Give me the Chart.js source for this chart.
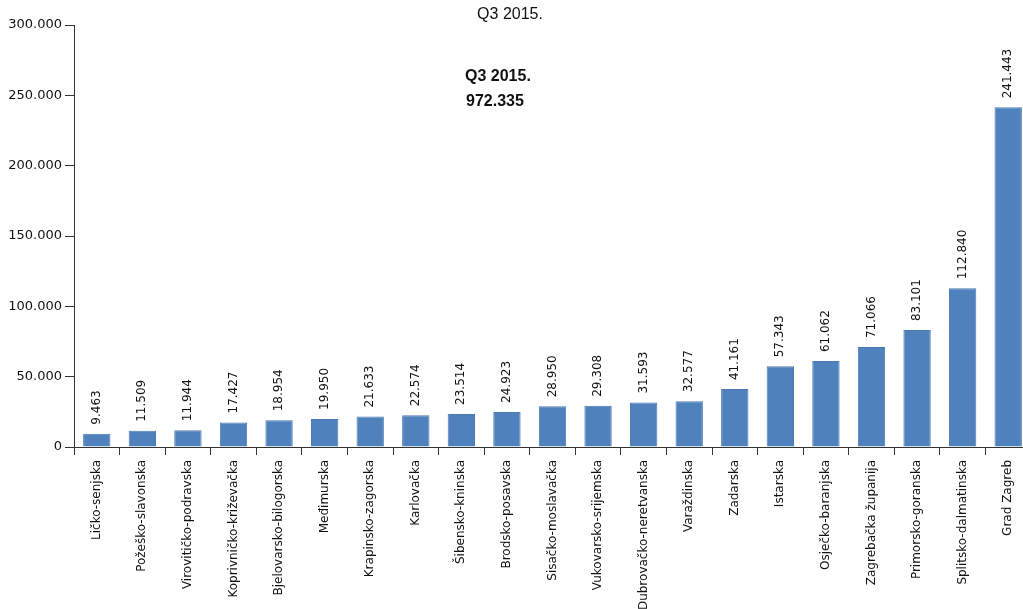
<!DOCTYPE html>
<html>
<head>
<meta charset="utf-8">
<script src="https://cdn.jsdelivr.net/npm/chart.js@4"></script>
<style>
  html, body { margin: 0; padding: 0; background: #fff; overflow: hidden; }
  #wrap { position: relative; width: 1031px; height: 609px; }
</style>
</head>
<body>
<div id="wrap"><canvas id="zupanije"></canvas></div>
<script>
// Broj po županijama, Q3 2015.
const zupanije = ['Ličko-senjska', 'Požeško-slavonska', 'Virovitičko-podravska', 'Koprivničko-križevačka',
    'Bjelovarsko-bilogorska', 'Međimurska', 'Krapinsko-zagorska', 'Karlovačka', 'Šibensko-kninska',
    'Brodsko-posavska', 'Sisačko-moslavačka', 'Vukovarsko-srijemska', 'Dubrovačko-neretvanska',
    'Varaždinska', 'Zadarska', 'Istarska', 'Osječko-baranjska', 'Zagrebačka županija',
    'Primorsko-goranska', 'Splitsko-dalmatinska', 'Grad Zagreb'];
const vrijednosti = [9463, 11509, 11944, 17427, 18954, 19950, 21633, 22574, 23514, 24923,
    28950, 29308, 31593, 32577, 41161, 57343, 61062, 71066, 83101, 112840, 241443];
const yTicks = [0, 50000, 100000, 150000, 200000, 250000, 300000];
const naslov = 'Q3 2015.';
const ukupno = ['Q3 2015.', '972.335'];

const fmt = v => v.toLocaleString('de-DE');

// value labels above bars + titles
const labelsPlugin = {
    id: 'labelsPlugin',
    afterDatasetsDraw(chart) {
        const ctx = chart.ctx;
        const meta = chart.getDatasetMeta(0);
        ctx.save();
        ctx.fillStyle = '#111';
        ctx.font = '12px "DejaVu Sans"';
        ctx.textAlign = 'left';
        ctx.textBaseline = 'middle';
        meta.data.forEach((bar, i) => {
            ctx.save();
            ctx.translate(bar.x, bar.y - 9);
            ctx.rotate(-Math.PI / 2);
            ctx.fillText(fmt(vrijednosti[i]), 0, 0);
            ctx.restore();
        });

        const area = chart.chartArea;
        ctx.textAlign = 'center';
        ctx.font = '16px "Liberation Sans"';
        ctx.fillText(naslov, 510, area.top - 10);

        ctx.textAlign = 'left';
        ctx.font = 'bold 16px "Liberation Sans"';
        ctx.fillText(ukupno[0], 465, 77);
        ctx.fillText(ukupno[1], 466, 102);
        ctx.restore();
    }
};

new Chart(document.getElementById('zupanije'), {
    type: 'bar',
    data: {
        labels: zupanije,
        datasets: [{
            data: vrijednosti,
            backgroundColor: '#4F81BD',
            borderColor: '#4A7AB3',
            borderWidth: 1,
            categoryPercentage: 1,
            barPercentage: 0.6
        }]
    },
    options: {
        responsive: true,
        maintainAspectRatio: false,
        animation: false,
        layout: { padding: { top: 25, right: 0, left: 0, bottom: 0 } },
        plugins: {
            legend: { display: false },
            tooltip: { enabled: false }
        },
        scales: {
            x: {
                grid: {
                    display: true,
                    drawOnChartArea: false,
                    drawTicks: true,
                    tickLength: 8,
                    color: '#333'
                },
                border: { display: true, color: '#333', width: 1 },
                ticks: {
                    color: '#111',
                    font: { family: 'DejaVu Sans', size: 12 },
                    minRotation: 90,
                    maxRotation: 90,
                    autoSkip: false,
                    padding: 5
                },
                afterFit(scale) { scale.height = 162; }
            },
            y: {
                min: 0,
                max: 300000,
                afterBuildTicks(scale) { scale.ticks = yTicks.map(v => ({ value: v })); },
                grid: {
                    display: true,
                    drawOnChartArea: false,
                    drawTicks: true,
                    tickLength: 9,
                    color: '#333'
                },
                border: { display: true, color: '#333', width: 1 },
                ticks: {
                    color: '#111',
                    font: { family: 'DejaVu Sans', size: 13 },
                    padding: 3,
                    callback: v => fmt(v)
                },
                afterFit(scale) { scale.width = 74; }
            }
        }
    },
    plugins: [labelsPlugin]
});
</script>
</body>
</html>
